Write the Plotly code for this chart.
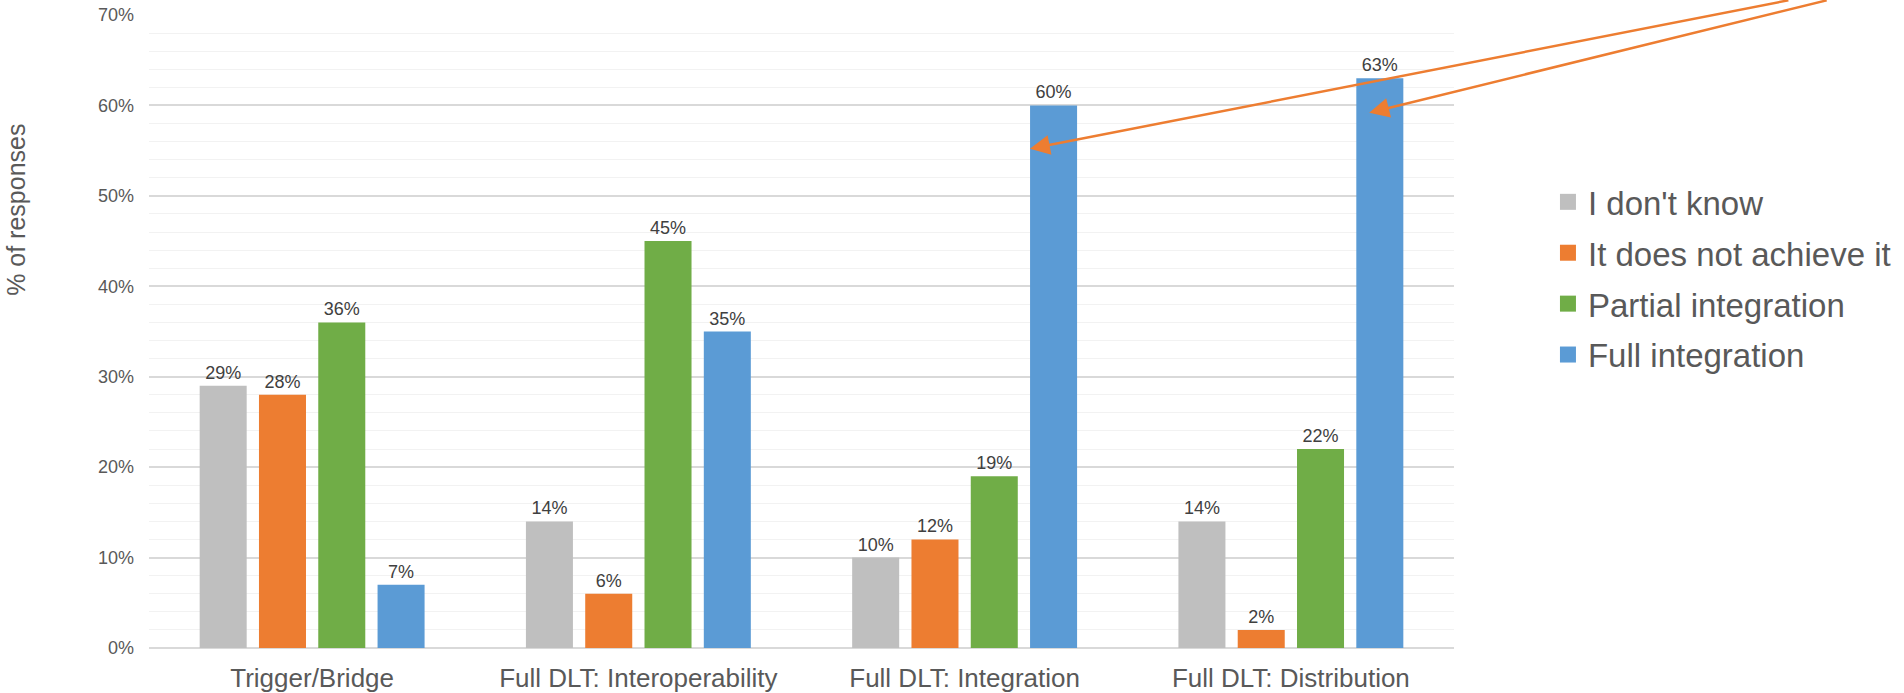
import plotly.graph_objects as go

categories = ["Trigger/Bridge", "Full DLT: Interoperability", "Full DLT: Integration", "Full DLT: Distribution"]
series_names = ["I don't know", "It does not achieve it", "Partial integration", "Full integration"]
dont_know = [29, 14, 10, 14]
not_achieve = [28, 6, 12, 2]
partial = [36, 45, 19, 22]
full = [7, 35, 60, 63]
colors = ["#BFBFBF", "#ED7D31", "#70AD47", "#5B9BD5"]
y_ticks = [0, 10, 20, 30, 40, 50, 60, 70]

FONT = "Arial, Liberation Sans, sans-serif"

fig = go.Figure()
for name, vals, col in zip(series_names, [dont_know, not_achieve, partial, full], colors):
    fig.add_trace(go.Bar(
        x=categories, y=vals, name=name, showlegend=False,
        marker=dict(color=col, line=dict(width=0)),
        text=[f"{v}%" for v in vals], textposition="outside", cliponaxis=False,
        textangle=0, constraintext="none",
        textfont=dict(family=FONT, size=18, color="#404040"),
    ))
# legend entries
for i, (name, col) in enumerate(zip(series_names, colors)):
    fig.add_trace(go.Scatter(
        x=[categories[0]], y=[None], mode="markers", name=name, legendgroup=f"g{i}",
        marker=dict(symbol="square", size=16, color=col),
    ))

fig.update_layout(
    width=1904, height=693,
    margin=dict(l=149, r=450, t=15, b=45, autoexpand=False),
    plot_bgcolor="white", paper_bgcolor="white",
    barmode="group", bargap=0.273, bargroupgap=0.207,
    font=dict(family=FONT, color="#595959"),
    legend=dict(x=1.072, xanchor="left", y=0.749, yanchor="top",
                font=dict(size=33, color="#595959"), tracegroupgap=5,
                itemsizing="trace", bgcolor="rgba(0,0,0,0)"),
)
fig.update_xaxes(
    type="category", categoryarray=categories, range=[-0.5, 3.5],
    showgrid=False, showline=False, ticks="", tickangle=0, automargin=False,
    ticklabelstandoff=12,
    tickfont=dict(family=FONT, size=26, color="#595959"),
    zeroline=False,
)
fig.update_yaxes(
    range=[0, 70], tickvals=y_ticks, ticktext=[f"{v}%" for v in y_ticks],
    showgrid=True, gridcolor="#D9D9D9", gridwidth=1.5,
    minor=dict(dtick=2, showgrid=True, gridcolor="#F2F2F2", gridwidth=1),
    zeroline=True, zerolinecolor="#D9D9D9", zerolinewidth=1.5,
    showline=False, ticks="", ticklabelstandoff=14, automargin=False,
    tickfont=dict(family=FONT, size=18, color="#595959"),
)
fig.add_annotation(
    text="% of responses", textangle=-90, xref="paper", yref="paper",
    x=-0.102, y=0.692, xanchor="center", yanchor="middle", showarrow=False,
    font=dict(family=FONT, size=25, color="#595959"),
)
# orange callout arrows (tails at the top edge of the figure)
fig.add_annotation(x=2.2, y=55.2, xref="x", yref="y", axref="pixel", ayref="pixel",
                   ax=760, ay=-149, showarrow=True, arrowhead=2, arrowsize=1.6,
                   arrowwidth=2.5, arrowcolor="#ED7D31", text="")
fig.add_annotation(x=3.24, y=59.2, xref="x", yref="y", axref="pixel", ayref="pixel",
                   ax=459, ay=-113, showarrow=True, arrowhead=2, arrowsize=1.6,
                   arrowwidth=2.5, arrowcolor="#ED7D31", text="")

fig.write_html("out.html")
